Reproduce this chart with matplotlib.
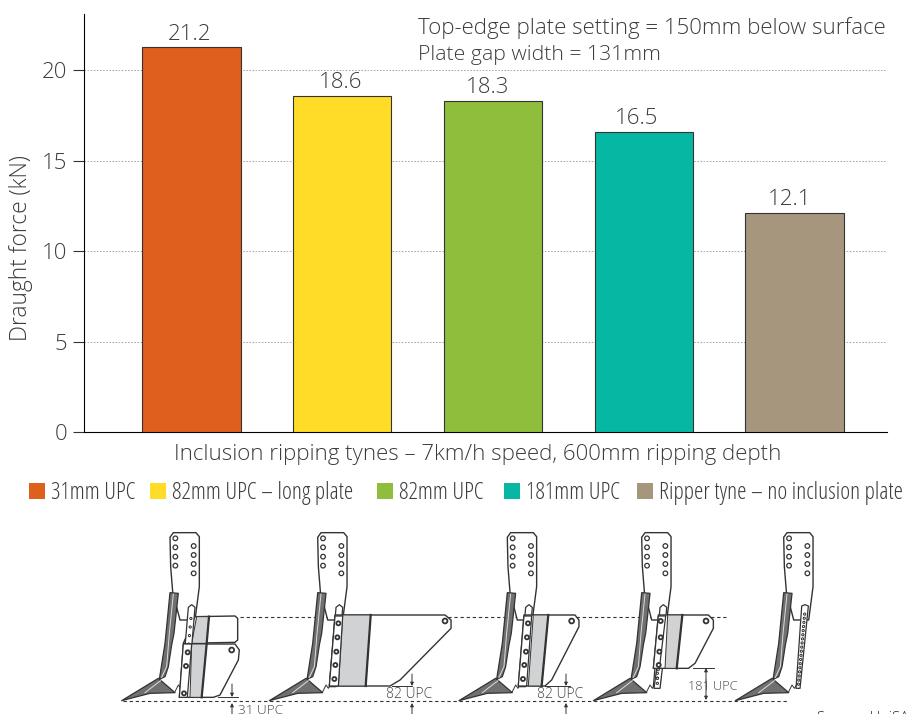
from __future__ import annotations

import matplotlib
matplotlib.use("Agg")
import matplotlib.pyplot as plt
from matplotlib.patches import Circle, Polygon, Rectangle

WIDTH, HEIGHT = 909, 714
TEXT = "#3c3c3c"
LINE = "#333333"
plt.rcParams["font.family"] = ["Open Sans", "DejaVu Sans"]
plt.rcParams["font.weight"] = 300
plt.rcParams["axes.labelweight"] = 300

tynes = ["31mm UPC", "82mm UPC – long plate", "82mm UPC", "181mm UPC", "Ripper tyne – no inclusion plate"]
draught = [21.25, 18.55, 18.3, 16.6, 12.1]
bar_labels = ["21.2", "18.6", "18.3", "16.5", "12.1"]
colors = ["#df5f1e", "#ffdc28", "#8fbe3c", "#06b8a4", "#a6967e"]
y_ticks = [0, 5, 10, 15, 20]
legend_x = [29, 150, 377, 504, 637]
label_shift = [-2, -2, -5, -7, -5]

# tyne drawing outlines, traced at 3x from the left edge of the shank
tyne_x = [170, 317.7, 507.3, 641.7, 783.7]
shank = [(0, 52), (10, 38), (78, 38), (88, 50), (88, 200), (75, 300), (30, 300), (8, 215), (2, 140)]
leg = [(0, 218), (25, 220), (12, 340), (5, 375), (-5, 440), (-15, 470), (-32, 478), (-15, 370)]
leg_inner = [(10, 222), (-2, 340), (-10, 440), (-25, 472)]
shoe = [(-145, 542), (-35, 475), (15, 518), (-60, 520)]
shoe_inner = [(-75, 518), (-28, 482)]
spring = [(15, 515), (25, 495), (32, 505), (38, 495)]
strip = [(55, 262), (65, 254), (75, 262), (55, 500), (35, 500)]
last_strip = [(54, 258), (64, 254), (74, 258), (49, 505), (37, 505)]
plates = [
    [(40, 372), (195, 372), (208, 390), (205, 420), (150, 525), (130, 532), (28, 532)],
    [(52, 285), (382, 285), (400, 300), (400, 325), (247, 480), (217, 498), (35, 498)],
    [(50, 285), (203, 285), (215, 300), (215, 320), (133, 480), (113, 498), (33, 498)],
    [(50, 285), (200, 285), (215, 300), (215, 325), (160, 430), (140, 445), (35, 445)],
]
bands = [
    [(65, 372), (110, 372), (95, 532), (60, 532)],
    [(75, 285), (159, 285), (144, 498), (62, 498)],
    [(78, 285), (123, 285), (103, 498), (63, 498)],
    [(78, 285), (122, 285), (105, 445), (70, 445)],
]
plate_strips = [
    [(40, 372), (65, 372), (52, 532), (28, 532)],
    [(52, 288), (75, 288), (62, 498), (35, 498)],
    [(50, 288), (73, 288), (58, 498), (33, 498)],
    [(50, 288), (72, 288), (53, 445), (35, 445)],
]
bolts = [
    [(53, 397), (48, 438), (42, 520)],
    [(62, 310), (59, 352), (56, 395), (53, 435), (50, 477)],
    [(62, 310), (59, 352), (56, 395), (51, 435), (47, 477)],
    [(57, 303), (57, 352), (53, 395), (51, 435)],
]
plate_holes = [(185, 390), (382, 303), (193, 303), (193, 303)]
upper_plate = [(75, 290), (195, 288), (203, 295), (203, 360), (195, 367), (40, 370)]
upper_band = [(80, 290), (117, 290), (110, 370), (65, 370)]
tail_strip = [(45, 445), (62, 445), (55, 505), (37, 505)]
upc_labels = [(238, 710, "31 UPC", 9.7), (386, 695, "82 UPC", 10), (537, 695, "82 UPC", 10), (688, 686, "181 UPC", 9.2)]


def px(points, x0):
    return [(x0 + x / 3, 520 + y / 3) for x, y in points]


def hole(ax, x0, x, y, r=2.3, lw=0.9, zorder=3):
    ax.add_patch(Circle((x0 + x / 3, 520 + y / 3), r, fc="white", ec=LINE, lw=lw, zorder=zorder))


def outline(ax, points, x0, fc="white", lw=1.0, zorder=2):
    ax.add_patch(Polygon(px(points, x0), closed=True, fc=fc, ec=LINE, lw=lw, joinstyle="round", zorder=zorder))


def strip_holes(ax, points, x0, count, zorder):
    top_l, top_r = points[0], points[2]
    bot_r, bot_l = points[3], points[4]
    for k in range(count):
        t = (k + 1) / (count + 1)
        x = (top_l[0] + top_r[0]) / 2 * (1 - t) + (bot_l[0] + bot_r[0]) / 2 * t
        y = 270 * (1 - t) + bot_l[1] * t
        hole(ax, x0, x, y, r=1.1, lw=0.7, zorder=zorder)


def band_edge(ax, band, x0):
    xs, ys = zip(*px([band[1], band[2]], x0))
    ax.plot(xs, ys, color=LINE, lw=1.6, zorder=6.5)


def draw_tyne(ax, x0, index):
    outline(ax, shank, x0)
    for y in (55, 82, 110, 137):
        hole(ax, x0, 16, y)
    for y in (78, 105, 132, 160):
        hole(ax, x0, 71, y)
    outline(ax, leg, x0, fc="#6f7072", lw=0.9, zorder=3)
    outline(ax, shoe, x0, fc="#6f7072", lw=0.9, zorder=3)
    for line in (leg_inner, shoe_inner):
        xs, ys = zip(*px(line, x0))
        ax.plot(xs, ys, color="#dddddd", lw=0.7, zorder=4)
    xs, ys = zip(*px(spring, x0))
    ax.plot(xs, ys, color=LINE, lw=0.7, zorder=2)
    if index == 4:
        outline(ax, last_strip, x0, lw=0.9, zorder=4)
        strip_holes(ax, last_strip, x0, 18, 5)
        return
    if index == 0:
        outline(ax, upper_plate, x0, zorder=2.5)
        outline(ax, upper_band, x0, fc="#d0d2d3", lw=0.7, zorder=2.6)
        band_edge(ax, upper_band, x0)
    outline(ax, strip, x0, lw=0.9, zorder=3)
    strip_holes(ax, strip, x0, 8, 4)
    if index == 3:
        outline(ax, tail_strip, x0, lw=0.9, zorder=3)
        for y in (460, 475, 490):
            hole(ax, x0, 47, y, r=1.1, lw=0.7, zorder=4)
    outline(ax, plates[index], x0, zorder=5)
    outline(ax, bands[index], x0, fc="#d0d2d3", lw=0.7, zorder=6)
    band_edge(ax, bands[index], x0)
    outline(ax, plate_strips[index], x0, lw=0.9, zorder=6)
    for bx, by in bolts[index]:
        hole(ax, x0, bx, by, r=2.0, lw=1.3, zorder=7)
    hx, hy = plate_holes[index]
    hole(ax, x0, hx, hy, r=2.4, lw=1.3, zorder=7)


def main() -> None:
    fig = plt.figure(figsize=(WIDTH / 100, HEIGHT / 100), dpi=100)
    ax = fig.add_axes([84 / WIDTH, 1 - 432 / HEIGHT, (887 - 84) / WIDTH, (432 - 14) / HEIGHT])

    positions = range(len(draught))
    ax.bar(positions, draught, width=0.652, color=colors, edgecolor=LINE, linewidth=0.8, zorder=3)
    for pos, value, label, shift in zip(positions, draught, bar_labels, label_shift):
        ax.text(pos + shift / 150.75, value + 0.16, label, ha="center", va="bottom", fontsize=16, color=TEXT)

    ax.set_xlim(-0.713, 4.613)
    ax.set_ylim(0, 23.1)
    ax.set_xticks([])
    ax.set_yticks(y_ticks)
    ax.tick_params(axis="y", length=8, width=0.8, color=LINE, labelsize=16, labelcolor=TEXT, pad=4)
    ax.grid(axis="y", linestyle=(0, (1.6, 1.6)), color="#a5a5a5", linewidth=0.7, zorder=0)
    ax.spines["top"].set_visible(False)
    ax.spines["right"].set_visible(False)
    ax.set_ylabel("Draught force (kN)", fontsize=16.4, color=TEXT)
    ax.yaxis.set_label_coords(-0.064, 0.44)
    ax.set_xlabel("Inclusion ripping tynes – 7km/h speed, 600mm ripping depth", fontsize=16, color=TEXT)
    ax.xaxis.set_label_coords(0.49, -0.028)

    # overlay in pixel coordinates for annotations, legend and tyne drawings
    over = fig.add_axes([0, 0, 1, 1])
    over.set_xlim(0, WIDTH)
    over.set_ylim(HEIGHT, 0)
    over.axis("off")
    over.patch.set_alpha(0)

    over.text(418, 28, "Top-edge plate setting = 150mm below surface", fontsize=16, color=TEXT, va="center")
    over.text(418, 55, "Plate gap width = 131mm", fontsize=15.3, color=TEXT, va="center")

    for x, name, color in zip(legend_x, tynes, colors):
        over.add_patch(Rectangle((x, 483), 16, 16, fc=color, ec="none"))
        over.text(x + 22, 493, name, fontsize=17, color=TEXT, va="center", fontstretch="condensed")

    dash = (0, (3, 2.5))
    over.plot([123, 787], [700.7, 700.7], color=LINE, lw=0.8, linestyle=dash, zorder=1)
    over.plot([240, 726], [617, 617], color=LINE, lw=0.8, linestyle=dash, zorder=1)
    for i, x0 in enumerate(tyne_x):
        draw_tyne(over, x0, i)

    for x, y, text, size in upc_labels:
        over.text(x, y, text, fontsize=size, color="#444444", va="center", zorder=8, clip_on=True)

    arrow = dict(arrowstyle="-|>", color=LINE, lw=0.7, mutation_scale=5, shrinkA=0, shrinkB=0)
    for xa, y0, y1 in [(232, 684, 697), (232, 714, 703), (412, 674, 686), (412, 714, 703),
                       (566, 674, 686), (566, 714, 703), (706, 680, 668), (706, 680, 700)]:
        over.annotate("", xy=(xa, y1), xytext=(xa, y0), arrowprops=arrow, zorder=8)
    for x0, x1, y in [(218, 238, 697), (392, 412, 686), (545, 570, 686), (693, 714, 668)]:
        over.plot([x0, x1], [y, y], color=LINE, lw=0.7, zorder=8)

    over.text(817, 718, "Source: UniSA", fontsize=10.5, color="#222222", va="center", clip_on=True)

    fig.savefig("out.png", dpi=100)
    plt.close(fig)


if __name__ == "__main__":
    main()
